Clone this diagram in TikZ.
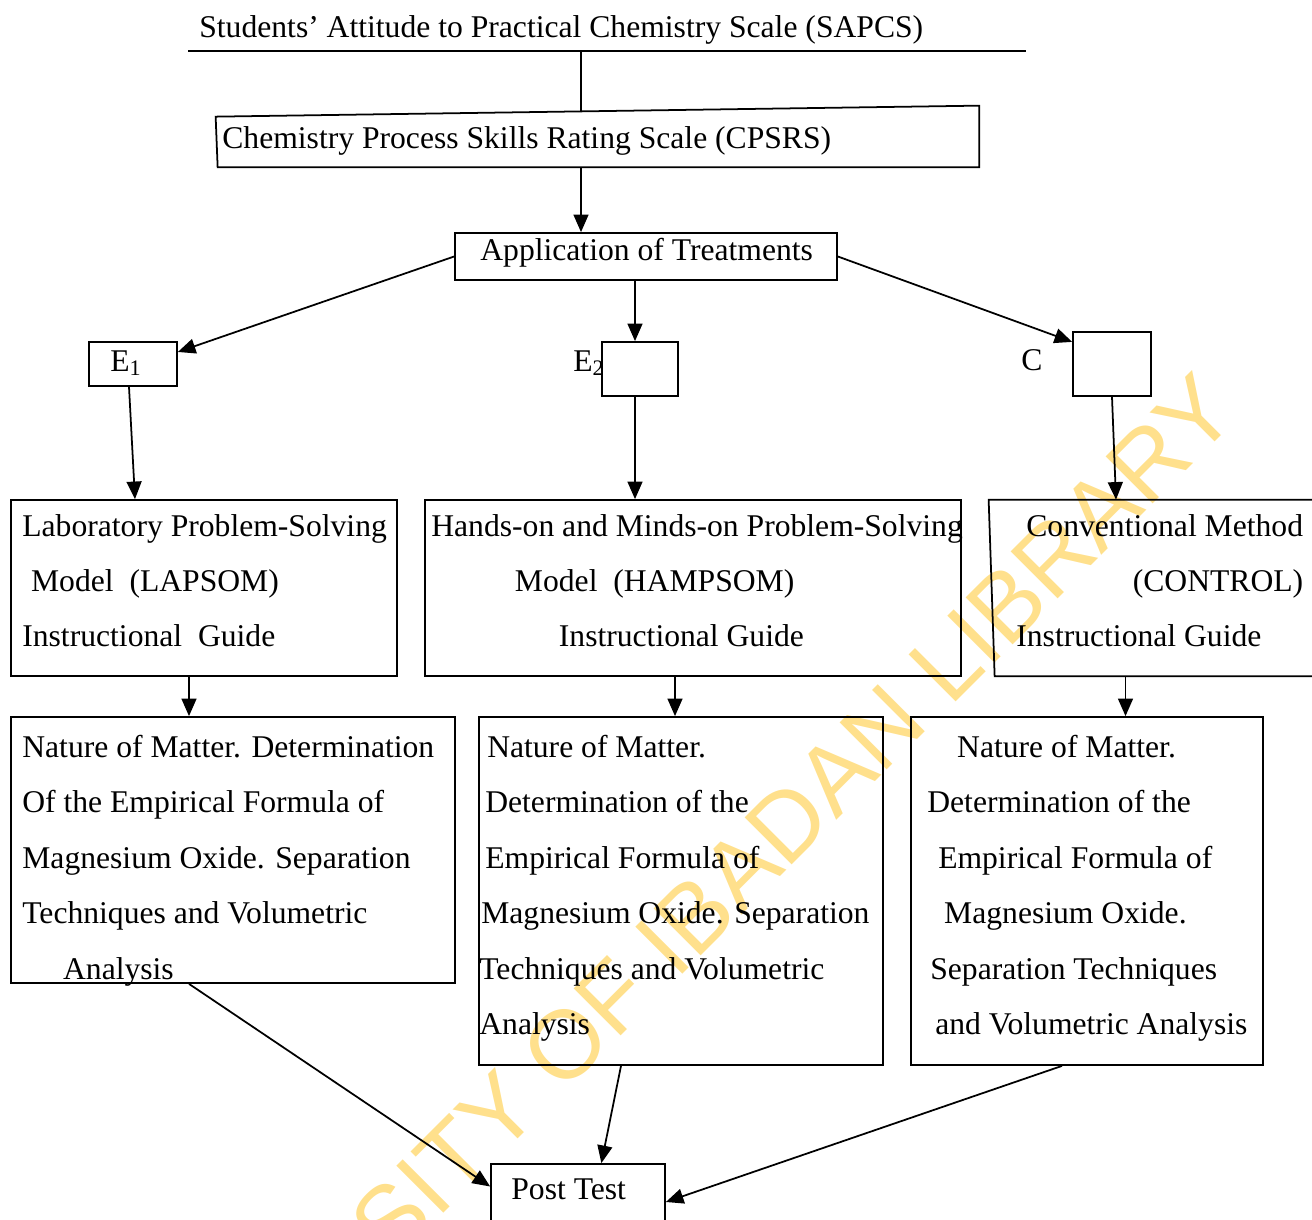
\documentclass[tikz,border=0pt]{standalone}
\usepackage{fontspec}
\setmainfont{Liberation Serif}
\newfontfamily\wmfont{Liberation Sans}
\usetikzlibrary{arrows.meta,calc,fit}
\definecolor{wmyellow}{RGB}{255,224,140}
\tikzset{
  box/.style={draw, line width=1pt, inner sep=0pt},
  txt/.style={align=left, inner sep=0pt, anchor=north west},
  lbl/.style={inner sep=0pt, anchor=base west},
  arr/.style={line width=1pt, -{Triangle[length=10pt,width=8.5pt]}},
}

\begin{document}
\begin{tikzpicture}[x=0.02cm, y=-0.02cm, font=\fontsize{18}{31.5}\selectfont]
	\useasboundingbox (0,0) rectangle (1312,1220);
	\clip (0,0) rectangle (1312,1220);
	% watermark
	\node[text=wmyellow, rotate=45, font=\wmfont\fontsize{55}{57}\selectfont] (wm) at (664,946) {UNIVERSITY OF IBADAN LIBRARY};
	% top scale
	\node[lbl] (sapcs) at (199,38) {Students’ Attitude to Practical Chemistry Scale (SAPCS)};
	\draw[line width=1pt] (188,51) -- (1026,51);
	\coordinate (tee) at (581,51);
	\node[inner sep=0pt, fit={(218,111) (979,167)}] (cps) {};
	\draw[line width=1pt] ($(cps.north west)+(-2,6)$) -- ($(cps.north east)+(0,-5)$) -- (cps.south east) -- (cps.south west) -- cycle;
	\node[lbl] (cpstxt) at (222,149) {Chemistry Process Skills Rating Scale (CPSRS)};
	\draw[line width=1pt] (tee) -- (tee |- cps.north);
	% treatments
	\node[box, fit={(455,233) (837,280)}] (app) {};
	\node[lbl] (apptxt) at (480,260) {Application of Treatments};
	\node[box, fit={(89,342) (177,386)}] (e1) {};
	\node[lbl] (e1txt) at (110,371) {E\textsubscript{1}};
	\node[box, fit={(602,342) (678,396)}] (e2) {};
	\node[lbl] (e2txt) at (573,371) {E\textsubscript{2}};
	\node[box, fit={(1073,332) (1151,396)}] (cbox) {};
	\node[lbl] (ctxt) at (1021,370) {C};
	\draw[arr] (tee |- cps.south) -- (tee |- app.north);
	\draw[arr] (app.west) -- (e1.15);
	\draw[arr] ($(app.south)+(-11,0)$) -- ($(e2.north)+(-5,0)$);
	\draw[arr] (app.east) -- (cbox.151);
	% guides
	\node[box, fit={(11,500) (397,676)}] (lab) {};
	\node[txt] (labtxt) at (22,514) {Laboratory Problem-Solving\\
		\hspace*{5pt}Model\ \ (LAPSOM)\\
		Instructional\ \ Guide};
	\node[box, fit={(425,500) (961,676)}] (ham) {};
	\node[txt] (hamtxt) at (431,514) {Hands-on and Minds-on Problem-Solving\\
		\hspace*{47.6pt}Model\ \ (HAMPSOM)\\
		\hspace*{72.6pt}Instructional Guide};
	\node[inner sep=0pt, fit={(989,500) (1330,676)}] (con) {};
	\draw[line width=1pt] (con.north west) -- (con.north east) -- (con.south east) -- ($(con.south west)+(6,0)$) -- cycle;
	\node[txt] (contxt) at (1016,514) {\hspace*{5.7pt}Conventional Method\\
		\hspace*{66.3pt}(CONTROL)\\
		Instructional Guide};
	\draw[arr] ($(e1.south)+(-4,0)$) -- ($(e1.south |- lab.north)+(2,0)$);
	\draw[arr] ($(e2.south)+(-5,0)$) -- ($(e2.south |- ham.north)+(-5,0)$);
	\draw[arr] (cbox.south) -- ($(cbox.south |- con.north)+(4,0)$);
	% contents
	\node[box, fit={(11,717) (455,983)}] (nata) {};
	\node[txt] (natatxt) at (22,735) {Nature of Matter. Determination\\
		Of the Empirical Formula of\\
		Magnesium Oxide. Separation\\
		Techniques and Volumetric\\
		\hspace*{23.2pt}Analysis};
	\node[box, fit={(479,717) (883,1065)}] (natb) {};
	\node[txt] (natbtxt) at (479,735) {\hspace*{4.5pt}Nature of Matter.\\
		\hspace*{3.4pt}Determination of the\\
		\hspace*{3.4pt}Empirical Formula of\\
		\hspace*{1.1pt}Magnesium Oxide. Separation\\
		Techniques and Volumetric\\
		Analysis};
	\node[box, fit={(911,717) (1263,1065)}] (natc) {};
	\node[txt] (natctxt) at (927,735) {\hspace*{17pt}Nature of Matter.\\
		Determination of the\\
		\hspace*{6.2pt}Empirical Formula of\\
		\hspace*{9.6pt}Magnesium Oxide.\\
		\hspace*{1.7pt}Separation Techniques\\
		\hspace*{4.5pt}and Volumetric Analysis};
	\draw[arr] ($(lab.south)+(-15,0)$) -- ($(lab.south |- nata.north)+(-15,0)$);
	\draw[arr] ($(ham.south)+(-18,0)$) -- ($(ham.south |- natb.north)+(-18,0)$);
	\draw[arr] ($(con.south)+(-34,0)$) -- ($(con.south |- natc.north)+(-34,0)$);
	% post test
	\node[box, fit={(491,1164) (665,1240)}] (post) {};
	\node[lbl] (posttxt) at (511,1199) {Post Test};
	\draw[arr] ($(nata.south)+(-44,0)$) -- (post.170);
	\draw[arr] ($(natb.south)+(-60,0)$) -- (post.59);
	\draw[arr] ($(natc.south)+(-25,0)$) -- (post.east);
\end{tikzpicture}
\end{document}
